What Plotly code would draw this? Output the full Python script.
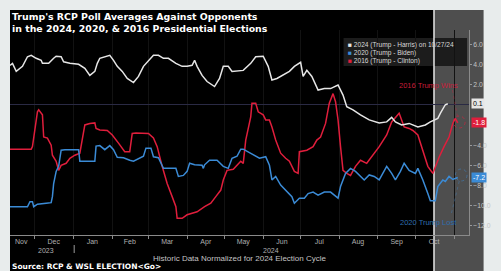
import plotly.graph_objects as go
import pandas as pd

# ---------------- data (days since 2023-11-11, Trump margin) ----------------
START = pd.Timestamp("2023-11-11")
END = pd.Timestamp("2024-11-13")

days_2024 = [0, 2, 5, 8, 10, 14, 17, 21, 25, 26, 31, 35, 37, 41, 43, 48, 55, 60, 64, 68,
             70, 72, 76, 80, 83, 86, 90, 94, 99, 103, 107, 111, 115, 119, 123, 127, 133,
             138, 142, 146, 148, 150, 154, 158, 164, 168, 171, 175, 178, 187, 193, 197,
             203, 207, 210, 214, 218, 224, 228, 233, 235, 238, 242, 247, 252, 257, 263,
             267, 270, 275, 281, 288, 296, 302, 306, 309, 314, 320, 327, 333, 337, 343,
             345, 349, 351]
vals_2024 = [3.9, 4.1, 3.3, 3.6, 3.8, 4.75, 4.9, 4.6, 4.4, 4.1, 4.1, 4.6, 4.8, 4.75, 4.25,
             4.1, 4.0, 3.6, 2.9, 3.3, 4.1, 4.6, 4.75, 4.9, 4.4, 3.8, 3.3, 2.6, 2.2, 2.8,
             3.8, 4.4, 4.9, 4.9, 4.6, 4.6, 4.1, 3.8, 3.8, 3.9, 4.4, 3.8, 2.9, 2.3, 1.8,
             2.6, 3.8, 3.8, 3.3, 3.4, 4.1, 4.75, 4.8, 3.8, 2.45, 2.6, 2.9, 3.3, 3.8, 4.2,
             2.8, 3.4, 2.8, 1.45, 1.6, 1.6, 1.95, 0.95, -0.2, -0.5, -1.0, -1.5, -1.8, -1.7,
             -1.25, -1.7, -2.0, -1.85, -2.2, -2.0, -1.7, -1.35, -0.85, 0.0, 0.1]

days_2020 = [0, 14, 16, 18, 19, 22, 29, 33, 34, 35, 37, 39, 41, 44, 55, 56, 68, 69, 72, 76,
             80, 83, 86, 91, 96, 99, 107, 109, 113, 115, 119, 123, 133, 135, 139, 142, 144,
             148, 154, 155, 156, 160, 166, 171, 175, 178, 182, 185, 187, 195, 200, 205, 208,
             210, 213, 217, 221, 226, 228, 232, 236, 239, 243, 247, 252, 257, 263, 265, 269,
             273, 277, 281, 284, 288, 292, 296, 302, 306, 309, 313, 316, 320, 325, 327, 331,
             335, 337, 341, 343, 347, 349, 352, 355, 359]
vals_2020 = [-10.1, -10.1, -9.6, -9.6, -10.1, -9.85, -9.75, -9.7, -9.1, -7.8, -6.6, -6.1,
             -4.5, -4.45, -4.45, -5.6, -5.6, -4.1, -4.05, -4.45, -4.05, -4.45, -5.2, -5.25,
             -5.5, -5.6, -5.1, -4.3, -4.3, -5.15, -5.25, -6.3, -6.3, -7.1, -7.0, -6.6, -5.8,
             -5.95, -6.0, -6.3, -5.95, -5.5, -5.5, -6.1, -6.3, -5.3, -5.1, -4.4, -4.4, -5.0,
             -5.3, -5.15, -6.0, -7.45, -7.1, -7.95, -8.45, -9.1, -9.75, -9.25, -9.25, -8.8,
             -8.65, -8.95, -8.65, -8.65, -9.25, -8.1, -6.8, -6.3, -6.6, -7.1, -7.45, -6.95,
             -7.1, -7.45, -6.1, -6.8, -7.45, -6.6, -5.8, -6.5, -6.8, -6.3, -7.45, -8.8,
             -9.5, -9.5, -8.1, -7.45, -7.6, -7.1, -7.4, -7.2]

days_2016 = [0, 17, 18, 21, 22, 23, 26, 27, 30, 33, 34, 37, 39, 41, 45, 48, 52, 56, 58, 60,
             64, 68, 69, 72, 78, 82, 87, 92, 96, 98, 101, 111, 115, 118, 122, 126, 130, 133,
             134, 138, 142, 146, 150, 156, 161, 165, 169, 171, 174, 179, 185, 187, 189, 193,
             194, 197, 199, 203, 205, 208, 210, 213, 217, 221, 224, 228, 231, 232, 238, 243,
             246, 249, 253, 256, 259, 261, 263, 265, 267, 270, 273, 277, 281, 286, 291, 296,
             302, 306, 312, 316, 320, 323, 327, 331, 335, 339, 344, 348, 352, 355, 357, 359]
vals_2016 = [-4.4, -4.4, -4.15, -1.85, -0.7, -0.5, -1.0, -3.2, -3.3, -4.0, -5.0, -5.6, -6.5,
             -6.0, -5.8, -5.3, -5.0, -4.8, -3.5, -2.0, -1.85, -1.8, -2.35, -2.5, -2.55, -3.0,
             -3.8, -4.65, -4.65, -2.85, -2.8, -2.85, -3.3, -4.15, -6.1, -7.8, -9.1, -10.1,
             -11.25, -11.25, -10.9, -10.75, -10.6, -10.1, -9.75, -9.1, -8.45, -7.45, -6.5,
             -6.4, -5.6, -5.8, -3.5, -1.2, 0.15, 0.15, -0.7, -1.0, -1.5, -1.5, -2.2, -3.5,
             -4.8, -5.3, -5.6, -6.6, -6.8, -4.65, -4.5, -4.15, -3.5, -3.2, -1.85, 0.15, 1.1,
             0.3, -1.5, -4.15, -6.5, -6.8, -7.0, -6.1, -5.5, -5.8, -5.0, -4.15, -3.0, -1.7,
             -0.85, -2.2, -2.35, -2.55, -3.0, -4.5, -6.1, -6.8, -5.2, -4.15, -3.2, -1.85,
             -1.35, -1.8]

month_labels = ["Nov", "Dec", "Jan", "Feb", "Mar", "Apr", "May", "Jun", "Jul", "Aug", "Sep", "Oct"]
month_label_dates = ["2023-11-20", "2023-12-16", "2024-01-16", "2024-02-15", "2024-03-16",
                     "2024-04-16", "2024-05-16", "2024-06-16", "2024-07-16", "2024-08-16",
                     "2024-09-16", "2024-10-16"]
month_starts = ["2023-12-01", "2024-01-01", "2024-02-01", "2024-03-01", "2024-04-01",
                "2024-05-01", "2024-06-01", "2024-07-01", "2024-08-01", "2024-09-01",
                "2024-10-01", "2024-11-01"]
# 0.0 and -2.0 sit under the last-value badges, so only these labels show
y_ticks = [6, 4, 2, -4, -6, -8, -10, -12]

series_names = ["2024 (Trump - Harris) on 10/27/24", "2020 (Trump - Biden)", "2016 (Trump - Clinton)"]
last_badges = ["0.1", "-1.8", "-7.2"]

# ---------------- styling / layout helpers ----------------
W, H = 501, 271
L, R, T, B = 10, 482, 30, 235
C_WHITE, C_BLUE, C_RED = "#e6e6e6", "#3b8bd6", "#e01e3c"


def px(x):
    return (x - L) / (R - L)


def py(y):
    return (B - y) / (B - T)


def to_dates(days):
    return [START + pd.Timedelta(days=d) for d in days]


fig = go.Figure()
for d, v, c in [(days_2016, vals_2016, C_RED), (days_2020, vals_2020, C_BLUE), (days_2024, vals_2024, C_WHITE)]:
    fig.add_trace(go.Scatter(x=to_dates(d), y=v, mode="lines", line=dict(color=c, width=1.5),
                             showlegend=False, hoverinfo="skip"))

shapes = [
    dict(type="rect", xref="paper", yref="paper", x0=px(10), x1=px(446), y0=py(271), y1=py(10),
         fillcolor="#000000", line=dict(width=0), layer="below"),
    dict(type="rect", xref="paper", yref="paper", x0=px(446), x1=px(497), y0=py(271), y1=py(10),
         fillcolor="#4e4e4e", line=dict(width=0), layer="below"),
    dict(type="rect", xref="paper", yref="paper", x0=px(353), x1=px(480), y0=py(66), y1=py(38),
         fillcolor="#1c1c1c", line=dict(width=0), layer="below"),
    dict(type="line", xref="paper", yref="paper", x0=px(446), x1=px(446), y0=py(271), y1=py(10),
         line=dict(color="#e8e8e8", width=1.5), layer="below"),
    dict(type="line", xref="paper", yref="paper", x0=px(76), x1=px(76), y0=py(245), y1=py(253),
         line=dict(color="#9a9a9a", width=1)),
    dict(type="circle", xref="paper", yref="paper", x0=px(466), x1=px(478), y0=py(128), y1=py(116),
         line=dict(color="rgba(224,30,60,0.6)", width=1, dash="dot")),
    dict(type="circle", xref="paper", yref="paper", x0=px(468), x1=px(480), y0=py(181), y1=py(169),
         line=dict(color="rgba(59,139,214,0.45)", width=1, dash="dot")),
    dict(type="line", xref="paper", yref="paper", x0=px(465), x1=px(470), y0=py(90), y1=py(116),
         line=dict(color="rgba(224,30,60,0.35)", width=1, dash="dot")),
    dict(type="line", xref="paper", yref="paper", x0=px(472), x1=px(464), y0=py(181), y1=py(213),
         line=dict(color="rgba(59,139,214,0.35)", width=1, dash="dot")),
]

annotations = [
    dict(text="<b>Trump's RCP Poll Averages Against Opponents</b>", x=px(10), y=py(16.5),
         xanchor="left", yanchor="middle", font=dict(family="DejaVu Sans", size=9.4, color="#ffffff")),
    dict(text="<b>in the 2024, 2020, &amp; 2016 Presidential Elections</b>", x=px(10), y=py(28.5),
         xanchor="left", yanchor="middle", font=dict(family="DejaVu Sans", size=9.4, color="#ffffff")),
    dict(text="2016 Trump Wins", x=px(440), y=py(85), xanchor="center", yanchor="middle",
         font=dict(family="Liberation Sans", size=7.5, color="#c81e3a")),
    dict(text="2020 Trump Lost", x=px(440), y=py(222), xanchor="center", yanchor="middle",
         font=dict(family="Liberation Sans", size=7.5, color="#2f6fae")),
    dict(text="2023", x=px(47), y=py(250), xanchor="center", yanchor="middle",
         font=dict(family="Liberation Sans", size=7, color="#b0b0b0")),
    dict(text="2024", x=px(278), y=py(250), xanchor="center", yanchor="middle",
         font=dict(family="Liberation Sans", size=7, color="#b0b0b0")),
    dict(text="Historic Data Normalized for 2024 Election Cycle", x=px(246), y=py(258),
         xanchor="center", yanchor="middle", font=dict(family="Liberation Sans", size=8, color="#c4c4c4")),
    dict(text="<b>Source: RCP &amp; WSL ELECTION&lt;Go&gt;</b>", x=px(10), y=py(266.5),
         xanchor="left", yanchor="middle", font=dict(family="DejaVu Sans", size=7.5, color="#ffffff")),
]

legend_rows_y = [45, 53, 61]
for name, c, yy in zip(series_names, [C_WHITE, C_BLUE, C_RED], legend_rows_y):
    annotations.append(dict(text=f"<span style='color:{c}'>■</span> {name}", x=px(356), y=py(yy),
                            xanchor="left", yanchor="middle",
                            font=dict(family="Liberation Sans", size=6.6, color="#d8d8d8")))

badge_vals = [vals_2024[-1], vals_2016[-1], vals_2020[-1]]
for txt, val, bg, fg in zip(last_badges, badge_vals, [C_WHITE, C_RED, C_BLUE], ["#000000", "#ffffff", "#ffffff"]):
    annotations.append(dict(text=txt, x=px(484), y=val, yref="y", xref="paper", xanchor="left",
                            yanchor="middle", bgcolor=bg, borderpad=1,
                            font=dict(family="Liberation Sans", size=7, color=fg)))

for a in annotations:
    a.setdefault("xref", "paper")
    a.setdefault("yref", "paper")
    a.setdefault("showarrow", False)

fig.update_layout(
    width=W, height=H,
    margin=dict(l=L, r=W - R, t=T, b=H - B, pad=0),
    paper_bgcolor="#e8ecec",
    plot_bgcolor="rgba(0,0,0,0)",
    shapes=shapes,
    annotations=annotations,
    showlegend=False,
    xaxis=dict(
        type="date", range=[START, END],
        tickvals=month_label_dates, ticktext=month_labels, ticks="", ticklen=0,
        tickfont=dict(family="Liberation Sans", size=7, color="#b0b0b0"),
        showline=True, linecolor="#8a8a8a", linewidth=1,
        showgrid=False, zeroline=False,
        minor=dict(tickvals=month_starts, ticks="outside", ticklen=3, tickcolor="#8a8a8a",
                   showgrid=True, gridcolor="#121212"),
    ),
    yaxis=dict(
        side="right", range=[-12.9, 7.4],
        tickvals=y_ticks, tickformat=".1f", ticks="outside", ticklen=2, tickcolor="#9a9a9a",
        tickfont=dict(family="Liberation Sans", size=6.8, color="#c4c4c4"),
        showline=True, linecolor="#8a8a8a", linewidth=1,
        showgrid=False, zeroline=True, zerolinecolor="#2a2a44", zerolinewidth=1,
    ),
)

fig.write_html("out.html", config={"displayModeBar": False},
               post_script="document.body.style.margin='0';document.body.style.overflow='hidden';")
